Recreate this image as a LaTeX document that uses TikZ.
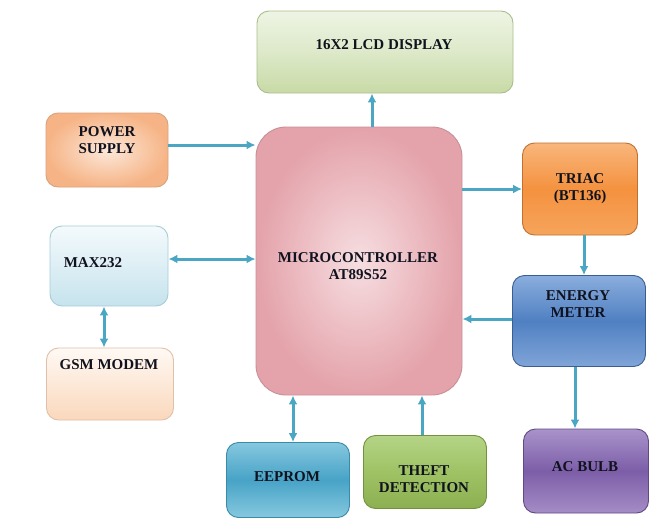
\documentclass[tikz,border=0pt]{standalone}
\usepackage{fontspec}
\setmainfont{Liberation Serif}
\usetikzlibrary{arrows,arrows.meta,positioning,calc,shadings}
\definecolor{wire}{HTML}{4AA6C2}
\definecolor{ink}{HTML}{10121E}
% block colours
\definecolor{lcdA}{HTML}{EEF4E4}\definecolor{lcdB}{HTML}{DDE9C9}\definecolor{lcdC}{HTML}{C8DAA6}\definecolor{lcdD}{HTML}{A9BE8C}
\definecolor{pwrA}{HTML}{FCE8DA}\definecolor{pwrB}{HTML}{F6B486}\definecolor{pwrD}{HTML}{D9A27A}
\definecolor{mcuA}{HTML}{F6DEE1}\definecolor{mcuB}{HTML}{E4A2AA}\definecolor{mcuD}{HTML}{C89096}
\definecolor{maxA}{HTML}{F4FAFC}\definecolor{maxB}{HTML}{C6E3ED}\definecolor{maxD}{HTML}{A8CCD8}
\definecolor{gsmA}{HTML}{FFF9F4}\definecolor{gsmB}{HTML}{FAD8BC}\definecolor{gsmD}{HTML}{E0C0A8}
\definecolor{trcA}{HTML}{F9B67C}\definecolor{trcB}{HTML}{F4923F}\definecolor{trcC}{HTML}{F6A45C}\definecolor{trcD}{HTML}{C07030}
\definecolor{mtrA}{HTML}{8AADDD}\definecolor{mtrB}{HTML}{5080C2}\definecolor{mtrC}{HTML}{80A5D8}\definecolor{mtrD}{HTML}{3B5E92}
\definecolor{blbA}{HTML}{A993CA}\definecolor{blbB}{HTML}{7C5EA8}\definecolor{blbC}{HTML}{A58DC6}\definecolor{blbD}{HTML}{5F4A82}
\definecolor{eepA}{HTML}{86C7DF}\definecolor{eepB}{HTML}{47A3C7}\definecolor{eepC}{HTML}{86C9DF}\definecolor{eepD}{HTML}{3A8AA8}
\definecolor{thfA}{HTML}{B4D486}\definecolor{thfB}{HTML}{9FC264}\definecolor{thfC}{HTML}{8BAF51}\definecolor{thfD}{HTML}{74923E}
\tikzset{
  >={Latex[length=9pt,width=9pt]},
  block/.style={rectangle, rounded corners=12pt, draw=#1, line width=0.9pt},
  txt/.style={font=\fontsize{15}{17}\selectfont\bfseries, text=ink, align=center, inner sep=0pt},
  line/.style={draw=wire, line width=3pt, ->},
  dline/.style={draw=wire, line width=3pt, <->}
}

\begin{document}
\begin{tikzpicture}[x=1pt,y=-1pt]
    \useasboundingbox (0,0) rectangle (659,525);
    % Draw blocks
    \node[block=lcdD, top color=lcdA, bottom color=lcdC, middle color=lcdB,
          minimum width=256pt, minimum height=82pt] (lcd) at (385,52) {};
    \node[block=pwrD, shading=radial, inner color=pwrA, outer color=pwrB,
          minimum width=122pt, minimum height=74pt] (power) at (107,150) {};
    \node[block=mcuD, rounded corners=30pt, shading=radial, inner color=mcuA, outer color=mcuB,
          minimum width=206pt, minimum height=268pt] (micro) at (359,261) {};
    \node[block=maxD, top color=maxA, bottom color=maxB,
          minimum width=118pt, minimum height=80pt] (max) at (109,266) {};
    \node[block=gsmD, top color=gsmA, bottom color=gsmB,
          minimum width=127pt, minimum height=72pt] (gsm) at (110,384) {};
    \node[block=trcD, top color=trcA, bottom color=trcC, middle color=trcB,
          minimum width=115pt, minimum height=92pt] (triac) at (580,189) {};
    \node[block=mtrD, top color=mtrA, bottom color=mtrC, middle color=mtrB,
          minimum width=133pt, minimum height=91pt] (meter) at (579,321) {};
    \node[block=blbD, top color=blbA, bottom color=blbC, middle color=blbB,
          minimum width=125pt, minimum height=84pt] (bulb) at (586,471) {};
    \node[block=eepD, top color=eepA, bottom color=eepC, middle color=eepB,
          minimum width=123pt, minimum height=75pt] (eeprom) at (288,480) {};
    \node[block=thfD, top color=thfA, bottom color=thfC, middle color=thfB,
          minimum width=123pt, minimum height=73pt] (theft) at (425,472) {};
    % Labels
    \node[txt] (lcd-t) at (384,45) {16X2 LCD DISPLAY};
    \node[txt] (power-t) at (107,140) {POWER\\SUPPLY};
    \node[txt] (micro-t) at (358,266) {MICROCONTROLLER\\AT89S52};
    \node[txt] (max-t) at (93,263) {MAX232};
    \node[txt] (gsm-t) at (109,365) {GSM MODEM};
    \node[txt] (triac-t) at (580,189) {TRIAC\\(BT136)};
    \node[txt] (meter-t) at (578,304) {ENERGY\\METER};
    \node[txt] (bulb-t) at (585,467) {AC BULB};
    \node[txt] (eeprom-t) at (287,477) {EEPROM};
    \node[txt] (theft-t) at (424,479) {THEFT\\DETECTION};
    % Draw connections
    \draw[line] ([xshift=13pt]micro.north) coordinate (c1) -- (c1 |- lcd.south);
    \draw[line] ([yshift=5pt]power.east) coordinate (c2) -- (c2 -| micro.west);
    \draw[dline] ([yshift=7pt]max.east) coordinate (c3) -- (c3 -| micro.west);
    \draw[dline] ([xshift=-5pt]max.south) coordinate (c4) -- (c4 |- gsm.north);
    \draw[line] (micro.east |- triac.west) -- (triac.west);
    \draw[line] ([xshift=4pt]triac.south) coordinate (c5) -- (c5 |- meter.north);
    \draw[line] ([yshift=2pt]meter.west) coordinate (c6) -- (c6 -| micro.east);
    \draw[line] ([xshift=-4pt]meter.south) coordinate (c7) -- (c7 |- bulb.north);
    \draw[dline] ([xshift=5pt]eeprom.north) coordinate (c8) -- (c8 |- micro.south);
    \draw[line] ([xshift=-3pt]theft.north) coordinate (c9) -- (c9 |- micro.south);

\end{tikzpicture}
\end{document}
